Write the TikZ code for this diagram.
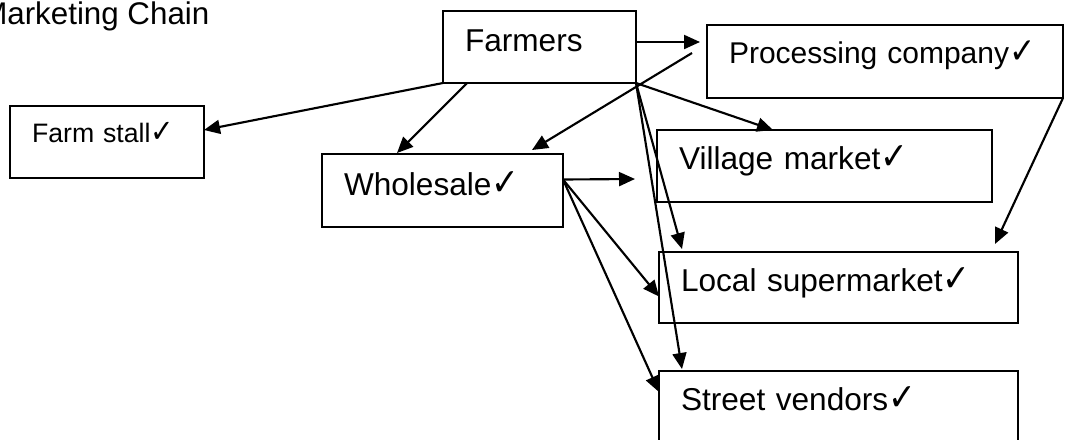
\documentclass[tikz,border=0pt]{standalone}
\usepackage{fontspec}
\setmainfont{Liberation Sans}
\newfontfamily\checkfont{DejaVu Sans}
\usetikzlibrary{arrows.meta,calc}
\newcommand{\tickmark}{\scalebox{1.05}[1.2]{\checkfont ✓}}
\tikzset{
	stage/.style={draw, line width=1.6pt, anchor=north west, align=left, outer sep=0pt, inner xsep=16.5pt, inner ysep=0pt, text height=29.25pt, text depth=24.75pt, font=\fontsize{23.7}{28}\selectfont},
	flow/.style={line width=1.6pt, -{Triangle[length=12pt,width=10.5pt]}}
}

\begin{document}
\begin{tikzpicture}[x=0.75pt, y=-0.75pt]

		\useasboundingbox (0,0) rectangle (1066,439);

		% title, cut at the left edge
		\node[anchor=base west, inner sep=0pt, font=\fontsize{23.5}{28}\selectfont] (title) at (-19,24) {Marketing Chain};

		% stages of the chain
		\node[stage, text width=111.75pt, text height=30pt, text depth=24pt] (farmers) at (443,11) {Farmers};
		\node[stage, text width=234pt, text height=28.5pt, text depth=26.25pt, font=\fontsize{22.5}{27}\selectfont] (processing) at (707,25) {Processing company\tickmark};
		\node[stage, text width=112.5pt, text height=27pt, text depth=27pt, font=\fontsize{20}{24}\selectfont] (stall) at (10,106) {Farm stall\tickmark};
		\node[stage, text width=147.75pt, text height=30.75pt, text depth=24pt] (wholesale) at (322,154) {Wholesale\tickmark};
		\node[stage, text width=218.25pt] (village) at (657,130) {Village market\tickmark};
		\node[stage, text width=236.25pt, text depth=24pt] (local) at (659,252) {Local supermarket\tickmark};
		\node[stage, text width=236.25pt, text depth=25.5pt] (street) at (659,371) {Street vendors\tickmark};

		% free ends
		\coordinate (procin) at (700,42);
		\coordinate (procout) at (692,53);
		\coordinate (villagein) at (635,179);

		% from the farmers
		\draw[flow] ($(farmers.east)+(0,-5)$) -- (procin);
		\draw[flow] (farmers.south west) -- ($(stall.east)+(0,-12)$);
		\draw[flow] ($(farmers.south west)+(24,0)$) -- ($(wholesale.north west)+(75,-1)$);
		\draw[flow] (farmers.south east) -- ($(village.north west)+(116,0)$);
		\draw[flow] (farmers.south east) -- ($(local.north west)+(23,-3)$);
		\draw[flow] (farmers.south east) -- ($(street.north west)+(23,-2)$);

		% from the processing company
		\draw[flow] (procout) -- ($(wholesale.north east)+(-31,-4)$);
		\draw[flow] (processing.south east) -- ($(local.north east)+(-23,-8)$);

		% from the wholesale
		\draw[flow] ($(wholesale.east)+(0,-11)$) -- (villagein);
		\draw[flow] ($(wholesale.east)+(0,-11)$) -- ($(local.west)+(0,9)$);
		\draw[flow] ($(wholesale.east)+(0,-11)$) -- ($(street.north west)+(0,21)$);

\end{tikzpicture}
\end{document}
